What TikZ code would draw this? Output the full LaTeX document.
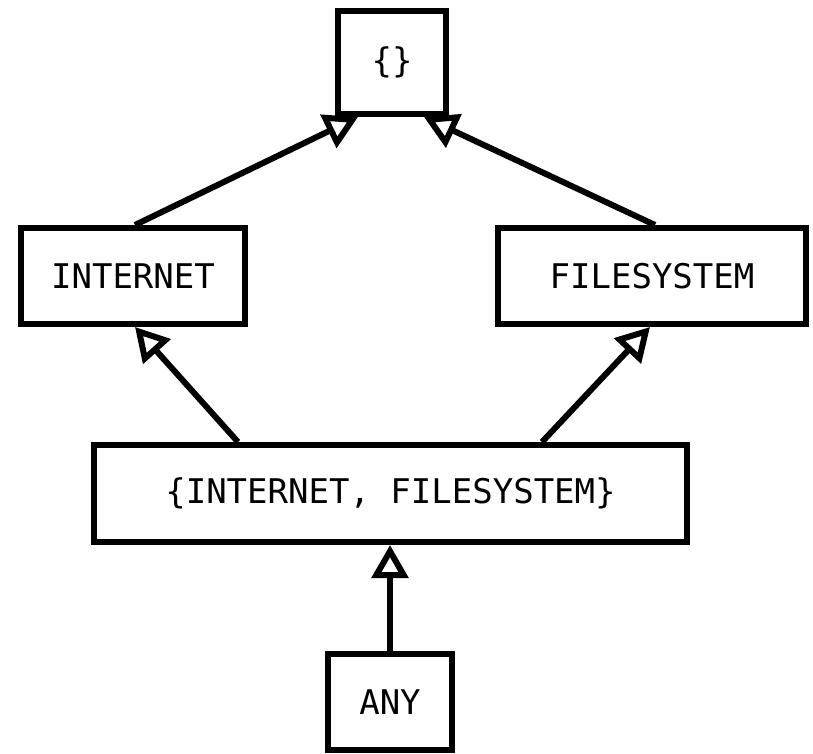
\documentclass[tikz,border=0pt]{standalone}
\usepackage{fontspec}
\setmonofont{DejaVu Sans Mono}
\usetikzlibrary{arrows.meta,calc}

\tikzset{
  setbox/.style={draw=black, line width=6pt, rectangle, inner sep=0pt,
    font=\ttfamily\fontsize{34}{40}\selectfont},
  subset/.style={line width=6pt, -{Triangle[open, length=33pt, width=36pt]}}
}

\begin{document}
\begin{tikzpicture}[x=1pt, y=-1pt]
  \useasboundingbox (0,0) rectangle (813,753);

  % lattice of capability sets
  \node[setbox, minimum width=108pt, minimum height=103pt] (empty) at (392,62.5) {\{\}};
  \node[setbox, minimum width=224pt, minimum height=96pt] (inet) at (133,276) {INTERNET};
  \node[setbox, minimum width=308pt, minimum height=96pt] (fs) at (652,276) {FILESYSTEM};
  \node[setbox, minimum width=593pt, minimum height=97pt] (both) at (390.5,493.5) {\{INTERNET, FILESYSTEM\}};
  \node[setbox, minimum width=124pt, minimum height=96pt] (any) at (390,702) {ANY};

  % subset relations
  \draw[subset] ($(inet.north)+(2,0)$) -- ($(empty.south)+(-34,0)$);
  \draw[subset] ($(fs.north)+(3,0)$) -- ($(empty.south)+(32,0)$);
  \draw[subset] ($(both.north)+(-152.5,0)$) -- ($(inet.south)+(2,0)$);
  \draw[subset] ($(both.north)+(151.5,0)$) -- ($(fs.south)+(-2,0)$);
  \draw[subset] (any.north) -- (any.north |- both.south);
\end{tikzpicture}
\end{document}
